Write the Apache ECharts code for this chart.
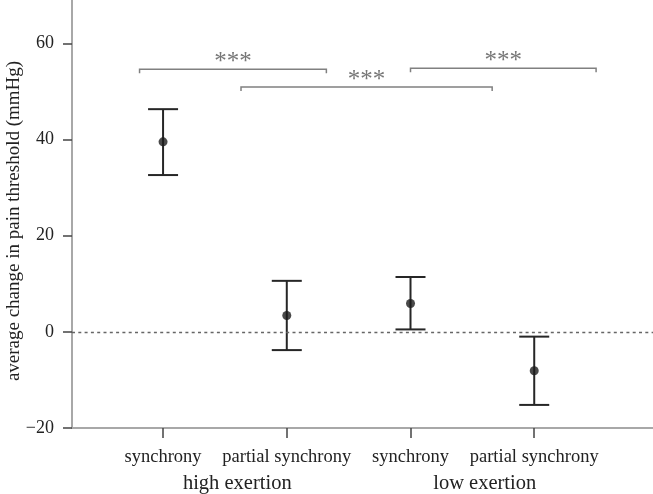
<!DOCTYPE html>
<html><head><meta charset="utf-8">
<script src="https://cdn.jsdelivr.net/npm/echarts@6/dist/echarts.min.js"></script>
<style>html,body{margin:0;padding:0;background:#fff}#c{width:653px;height:494px}</style>
</head><body><div id="c"></div>
<script>
var categories = ['synchrony', 'partial synchrony', 'synchrony', 'partial synchrony'];
var groups = ['high exertion', 'low exertion'];
var means = [39.5, 3.4, 5.9, -8.1];
var upper = [46.3, 10.6, 11.4, -1.0];
var lower = [32.6, -3.8, 0.5, -15.2];
var yTicks = [-20, 0, 20, 40, 60];
// brackets: [xStart, xEnd, y]
var brackets = [[0.81, 2.32, 54.6], [1.63, 3.66, 50.9], [3.0, 4.5, 54.8]];
var sigLabels = ['***', '***', '***'];

var serif = 'Liberation Serif';
var axisGray = '#a8a8a8';
var xPos = categories.map(function (c, i) { return i + 1; });
var groupPos = [1.6, 3.6];

var errData = xPos.map(function (x, i) { return [x, lower[i], upper[i]]; });
var meanData = xPos.map(function (x, i) { return [x, means[i]]; });
var bracketData = brackets.map(function (b) { return b; });
var sigData = brackets.map(function (b, i) { return [(b[0] + b[1]) / 2, b[2], sigLabels[i]]; });

var chart = echarts.init(document.getElementById('c'));
chart.setOption({
  animation: false,
  grid: { left: 72, right: 0, top: 0, bottom: 66, containLabel: false, outerBoundsMode: 'none' },
  xAxis: [{
    type: 'value', min: 0.264, max: 4.96,
    axisLine: { show: true, onZero: false, lineStyle: { color: axisGray, width: 2 } },
    axisTick: { show: true, customValues: xPos, length: 10, lineStyle: { color: '#444', width: 1.5 } },
    splitLine: { show: false },
    axisLabel: { customValues: xPos, margin: 20, fontFamily: serif, fontSize: 18.5, color: '#222',
      formatter: function (v) { return categories[Math.round(v) - 1]; } }
  }, {
    type: 'value', min: 0.264, max: 4.96, position: 'bottom',
    axisLine: { show: false, onZero: false }, axisTick: { show: false }, splitLine: { show: false },
    axisLabel: { customValues: groupPos, margin: 45, fontFamily: serif, fontSize: 20.5, color: '#222',
      formatter: function (v) { return groups[v < 2.5 ? 0 : 1]; } }
  }],
  yAxis: {
    type: 'value', min: -20, max: 69,
    name: 'average change in pain threshold (mmHg)', nameLocation: 'middle', nameGap: 48,
    nameMoveOverlap: false,
    nameTextStyle: { fontFamily: serif, fontSize: 19, color: '#222', padding: [0, 14, 0, 0] },
    axisLine: { show: true, lineStyle: { color: axisGray, width: 2 } },
    axisTick: { show: true, customValues: yTicks, length: 9, lineStyle: { color: '#444', width: 1.5 } },
    splitLine: { show: false },
    axisLabel: { customValues: yTicks, margin: 18, fontFamily: serif, fontSize: 18, color: '#222',
      formatter: function (v) { return v < 0 ? '\u2212' + (-v) : String(v); } }
  },
  series: [{
    type: 'custom',
    data: errData,
    renderItem: function (params, api) {
      var x = api.value(0);
      var lo = api.coord([x, api.value(1)]);
      var hi = api.coord([x, api.value(2)]);
      var hw = 15;
      var st = { stroke: '#262626', lineWidth: 2 };
      return { type: 'group', children: [
        { type: 'line', shape: { x1: lo[0], y1: lo[1], x2: hi[0], y2: hi[1] }, style: st },
        { type: 'line', shape: { x1: lo[0] - hw, y1: lo[1], x2: lo[0] + hw, y2: lo[1] }, style: st },
        { type: 'line', shape: { x1: hi[0] - hw, y1: hi[1], x2: hi[0] + hw, y2: hi[1] }, style: st }
      ] };
    },
    z: 2
  }, {
    type: 'scatter',
    data: meanData,
    symbolSize: 9,
    itemStyle: { color: '#1c1c1c' },
    z: 3,
    markLine: {
      silent: true, symbol: 'none',
      label: { show: false },
      lineStyle: { color: '#666', type: [3, 3.3], width: 1.4 },
      data: [{ yAxis: 0 }]
    }
  }, {
    type: 'custom',
    data: bracketData,
    renderItem: function (params, api) {
      var a = api.coord([api.value(0), api.value(2)]);
      var b = api.coord([api.value(1), api.value(2)]);
      var d = 4;
      return { type: 'polyline', shape: { points: [[a[0], a[1] + d], [a[0], a[1]], [b[0], b[1]], [b[0], b[1] + d]] },
        style: { stroke: '#808080', lineWidth: 1.5, fill: null } };
    }
  }, {
    type: 'scatter',
    data: sigData,
    symbolSize: 0,
    label: { show: true, position: 'top', distance: -6, formatter: function (p) { return p.value[2]; },
      fontFamily: serif, fontSize: 25, color: '#555' }
  }]
});
</script></body></html>
